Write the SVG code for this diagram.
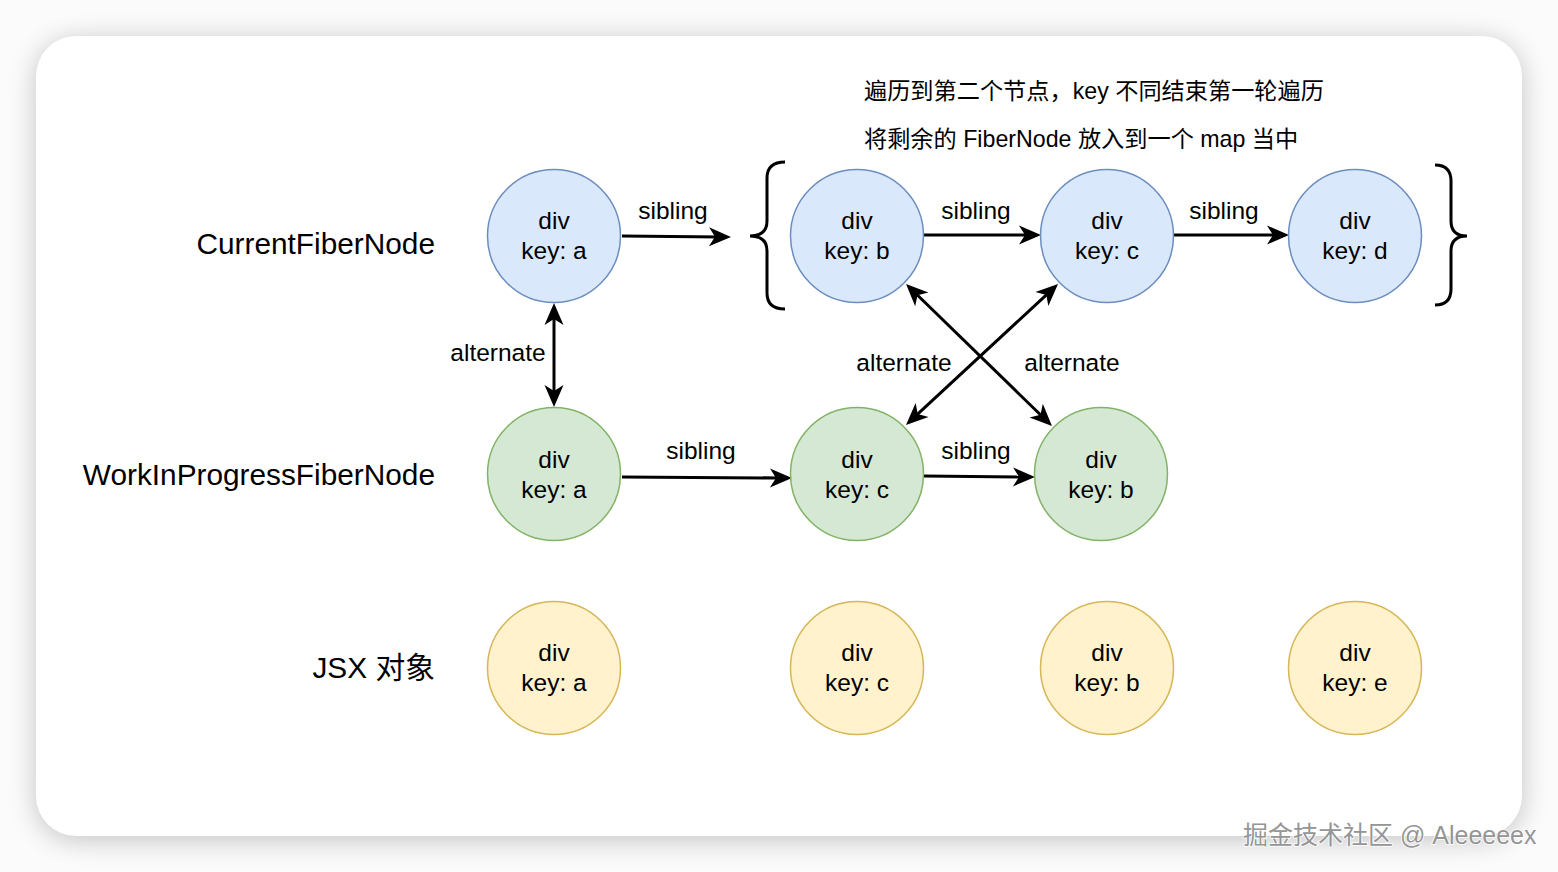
<svg xmlns="http://www.w3.org/2000/svg" width="1558" height="872" viewBox="0 0 1558 872">
<defs>
<style>
text{font-family:"Liberation Sans","Noto Sans CJK SC",sans-serif;fill:#000}
.node text{font-size:24.5px;text-anchor:middle}
.blue circle{fill:#dae8fc;stroke:#6c8ebf;stroke-width:1.5}
.green circle{fill:#d5e8d4;stroke:#82b366;stroke-width:1.5}
.yellow circle{fill:#fff2cc;stroke:#d6b656;stroke-width:1.5}
.row{font-size:29.8px;text-anchor:end}
.lbl{font-size:24.5px;text-anchor:middle}
.note{font-size:23.2px}
.edge{stroke:#000;stroke-width:3;fill:none}
.arr{marker-end:url(#ah)}
.dbl{marker-end:url(#ah);marker-start:url(#ah)}
.brace{stroke:#000;stroke-width:3;fill:none}
.wm{font-size:25px;fill:#959595;stroke:#ffffff;stroke-width:1.6;paint-order:stroke}
</style>
<marker id="ah" markerUnits="userSpaceOnUse" viewBox="-24 -12 26 24" refX="-10" refY="0" markerWidth="26" markerHeight="24" orient="auto-start-reverse">
<path d="M0,0 L-22,-9.5 L-16,0 L-22,9.5 Z" fill="#000"/>
</marker>
<filter id="sh" x="-10%" y="-10%" width="120%" height="120%">
<feGaussianBlur stdDeviation="14"/>
</filter>
</defs>
<rect x="0" y="0" width="1558" height="872" fill="#fbfbfb"/>
<rect x="36" y="40" width="1486" height="800" rx="40" fill="#000" opacity="0.22" filter="url(#sh)"/>
<rect x="36" y="36" width="1486" height="800" rx="40" fill="#ffffff"/>

<g id="row-labels">
<text class="row" x="435" y="254">CurrentFiberNode</text>
<text class="row" x="435" y="485">WorkInProgressFiberNode</text>
<text class="row" x="435" y="678">JSX 对象</text>
</g>

<g id="notes">
<text class="note" x="864" y="99">遍历到第二个节点，key 不同结束第一轮遍历</text>
<text class="note" x="864" y="147">将剩余的 FiberNode 放入到一个 map 当中</text>
</g>

<g id="braces">
<path class="brace" d="M785,162 Q767,162 767,178 L767,221 Q767,236 750,236 Q767,236 767,251 L767,293 Q767,309 785,309"/>
<path class="brace" d="M1435,165 Q1451,165 1451,181 L1451,221 Q1451,236 1467,236 Q1451,236 1451,251 L1451,289 Q1451,305 1435,305"/>
</g>

<g id="connectors">
<line class="edge arr" x1="622" y1="236" x2="721" y2="236.9"/>
<line class="edge arr" x1="924" y1="235" x2="1031" y2="235"/>
<line class="edge arr" x1="1174" y1="235" x2="1279" y2="235"/>
<line class="edge arr" x1="622" y1="477" x2="782" y2="478"/>
<line class="edge arr" x1="924" y1="476" x2="1025" y2="477"/>
<line class="edge dbl" x1="554" y1="313" x2="554" y2="397"/>
<line class="edge dbl" x1="913.2" y1="291" x2="1044.8" y2="419"/>
<line class="edge dbl" x1="913.3" y1="418.2" x2="1050.7" y2="290.8"/>
</g>

<g id="edge-labels">
<text class="lbl" x="673" y="219">sibling</text>
<text class="lbl" x="976" y="219">sibling</text>
<text class="lbl" x="1224" y="219">sibling</text>
<text class="lbl" x="701" y="459">sibling</text>
<text class="lbl" x="976" y="459">sibling</text>
<text class="lbl" x="498" y="361">alternate</text>
<text class="lbl" x="904" y="371">alternate</text>
<text class="lbl" x="1072" y="371">alternate</text>
</g>

<g id="cur-a" class="node blue"><circle cx="554" cy="236" r="66.5"/><text x="554" y="229">div</text><text x="554" y="259">key: a</text></g>
<g id="cur-b" class="node blue"><circle cx="857" cy="236" r="66.5"/><text x="857" y="229">div</text><text x="857" y="259">key: b</text></g>
<g id="cur-c" class="node blue"><circle cx="1107" cy="236" r="66.5"/><text x="1107" y="229">div</text><text x="1107" y="259">key: c</text></g>
<g id="cur-d" class="node blue"><circle cx="1355" cy="236" r="66.5"/><text x="1355" y="229">div</text><text x="1355" y="259">key: d</text></g>

<g id="wip-a" class="node green"><circle cx="554" cy="474" r="66.5"/><text x="554" y="468">div</text><text x="554" y="498">key: a</text></g>
<g id="wip-c" class="node green"><circle cx="857" cy="474" r="66.5"/><text x="857" y="468">div</text><text x="857" y="498">key: c</text></g>
<g id="wip-b" class="node green"><circle cx="1101" cy="474" r="66.5"/><text x="1101" y="468">div</text><text x="1101" y="498">key: b</text></g>

<g id="jsx-a" class="node yellow"><circle cx="554" cy="668" r="66.5"/><text x="554" y="661">div</text><text x="554" y="691">key: a</text></g>
<g id="jsx-c" class="node yellow"><circle cx="857" cy="668" r="66.5"/><text x="857" y="661">div</text><text x="857" y="691">key: c</text></g>
<g id="jsx-b" class="node yellow"><circle cx="1107" cy="668" r="66.5"/><text x="1107" y="661">div</text><text x="1107" y="691">key: b</text></g>
<g id="jsx-e" class="node yellow"><circle cx="1355" cy="668" r="66.5"/><text x="1355" y="661">div</text><text x="1355" y="691">key: e</text></g>

<text class="wm" x="1243" y="844">掘金技术社区 @ Aleeeeex</text>
</svg>
